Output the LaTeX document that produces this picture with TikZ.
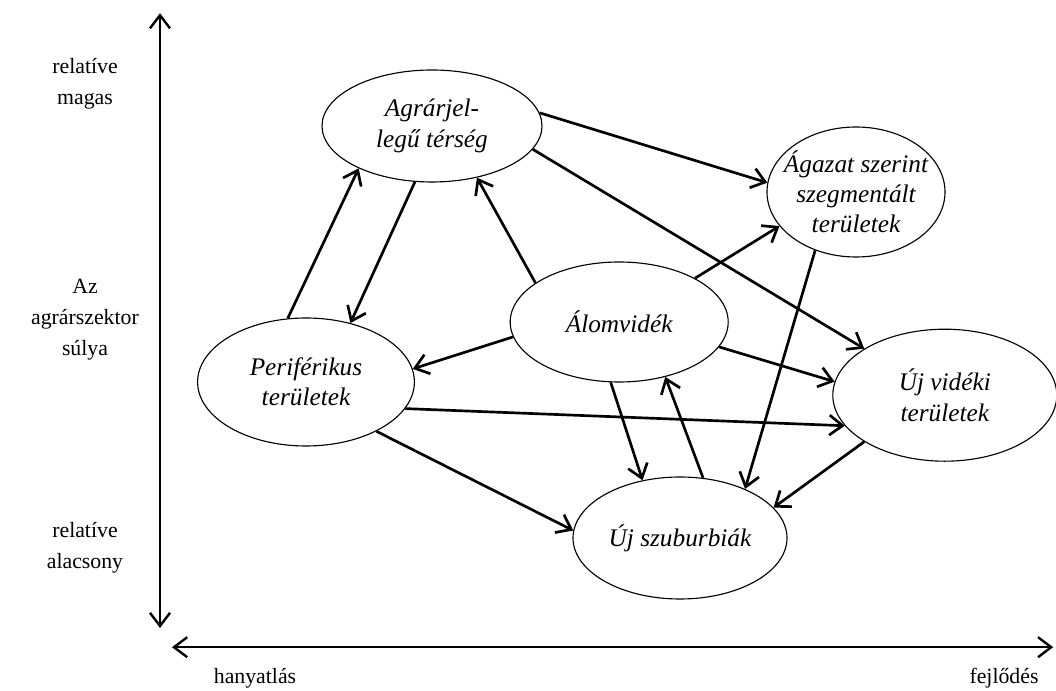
\documentclass[tikz,border=0pt]{standalone}
\usepackage{fontspec}
\setmainfont{Liberation Serif}
\usepackage{tikz}
\usetikzlibrary{arrows.meta, shapes.geometric}

\begin{document}
\begin{tikzpicture}[
	region/.style={shape=ellipse, draw=black, line width=0.8pt, inner sep=0pt, align=center, font=\fontsize{18}{21.5}\selectfont\itshape},
	axislabel/.style={align=center, font=\fontsize{15.5}{22}\selectfont},
	link/.style={line width=1.9pt},
	>={Straight Barb[length=3.3mm, width=5mm]}
]
	\useasboundingbox (0,0) rectangle (26.4,-17.275);

	% axes
	\coordinate (ytop) at (4.0, -0.33);
	\coordinate (ybot) at (4.0, -15.7);
	\coordinate (xleft) at (4.3, -16.18);
	\coordinate (xright) at (26.33, -16.18);
	\draw[<->, line width=1.7pt] (ytop) -- (ybot);
	\draw[<->, line width=1.7pt] (xleft) -- (xright);

	\node[axislabel] (high) at (2.125, -2.1) {relatíve\\magas};
	\node[axislabel] (weight) at (2.125, -8.0) {Az\\agrárszektor\\súlya};
	\node[axislabel] (low) at (2.125, -13.7) {relatíve\\alacsony};
	\node[axislabel] (decline) at (6.375, -16.95) {hanyatlás};
	\node[axislabel] (growth) at (25.1, -16.95) {fejlődés};

	% regions
	\node[region, minimum width=5.5cm, minimum height=2.8cm] (agrar) at (10.8, -3.15) {Agrárjel-\\legű térség};
	\node[region, minimum width=4.45cm, minimum height=3.25cm, inner xsep=-0.55cm, inner ysep=-0.2cm] (agazat) at (21.4, -4.8) {Ágazat szerint\\szegmentált\\területek};
	\node[region, minimum width=5.45cm, minimum height=3.0cm] (alom) at (15.48, -8.05) {Álomvidék};
	\node[region, minimum width=5.42cm, minimum height=3.2cm] (peri) at (7.65, -9.55) {Periférikus\\területek};
	\node[region, minimum width=5.6cm, minimum height=3.3cm] (ujvid) at (23.62, -9.88) {Új vidéki\\területek};
	\node[region, minimum width=5.35cm, minimum height=3.05cm] (szub) at (17.0, -13.45) {Új szuburbiák};

	% flows
	\path[->, link] (agrar.7) edge (agazat.174);
	\path[->, link] (agrar.-13) edge (ujvid.150);
	\path[->, link] (agrar.253) edge (peri.53);
	\path[->, link] (peri.106) edge (agrar.210);

	\path[->, link] (alom.155) edge (agrar.-49);
	\path[->, link] (alom.30) edge (agazat.204);
	\path[->, link] (alom.-14) edge (ujvid.173);
	\path[->, link] (alom.188) edge (peri.7);
	\path[->, link] (alom.262) edge (szub.123);
	\path[->, link] (szub.69) edge (alom.-50);

	\path[->, link] (agazat.235) edge (szub.37);
	\path[->, link] (peri.-15) edge (ujvid.197);
	\path[->, link] (peri.-35) edge (szub.176);
	\path[->, link] (ujvid.210) edge (szub.18);
\end{tikzpicture}
\end{document}
